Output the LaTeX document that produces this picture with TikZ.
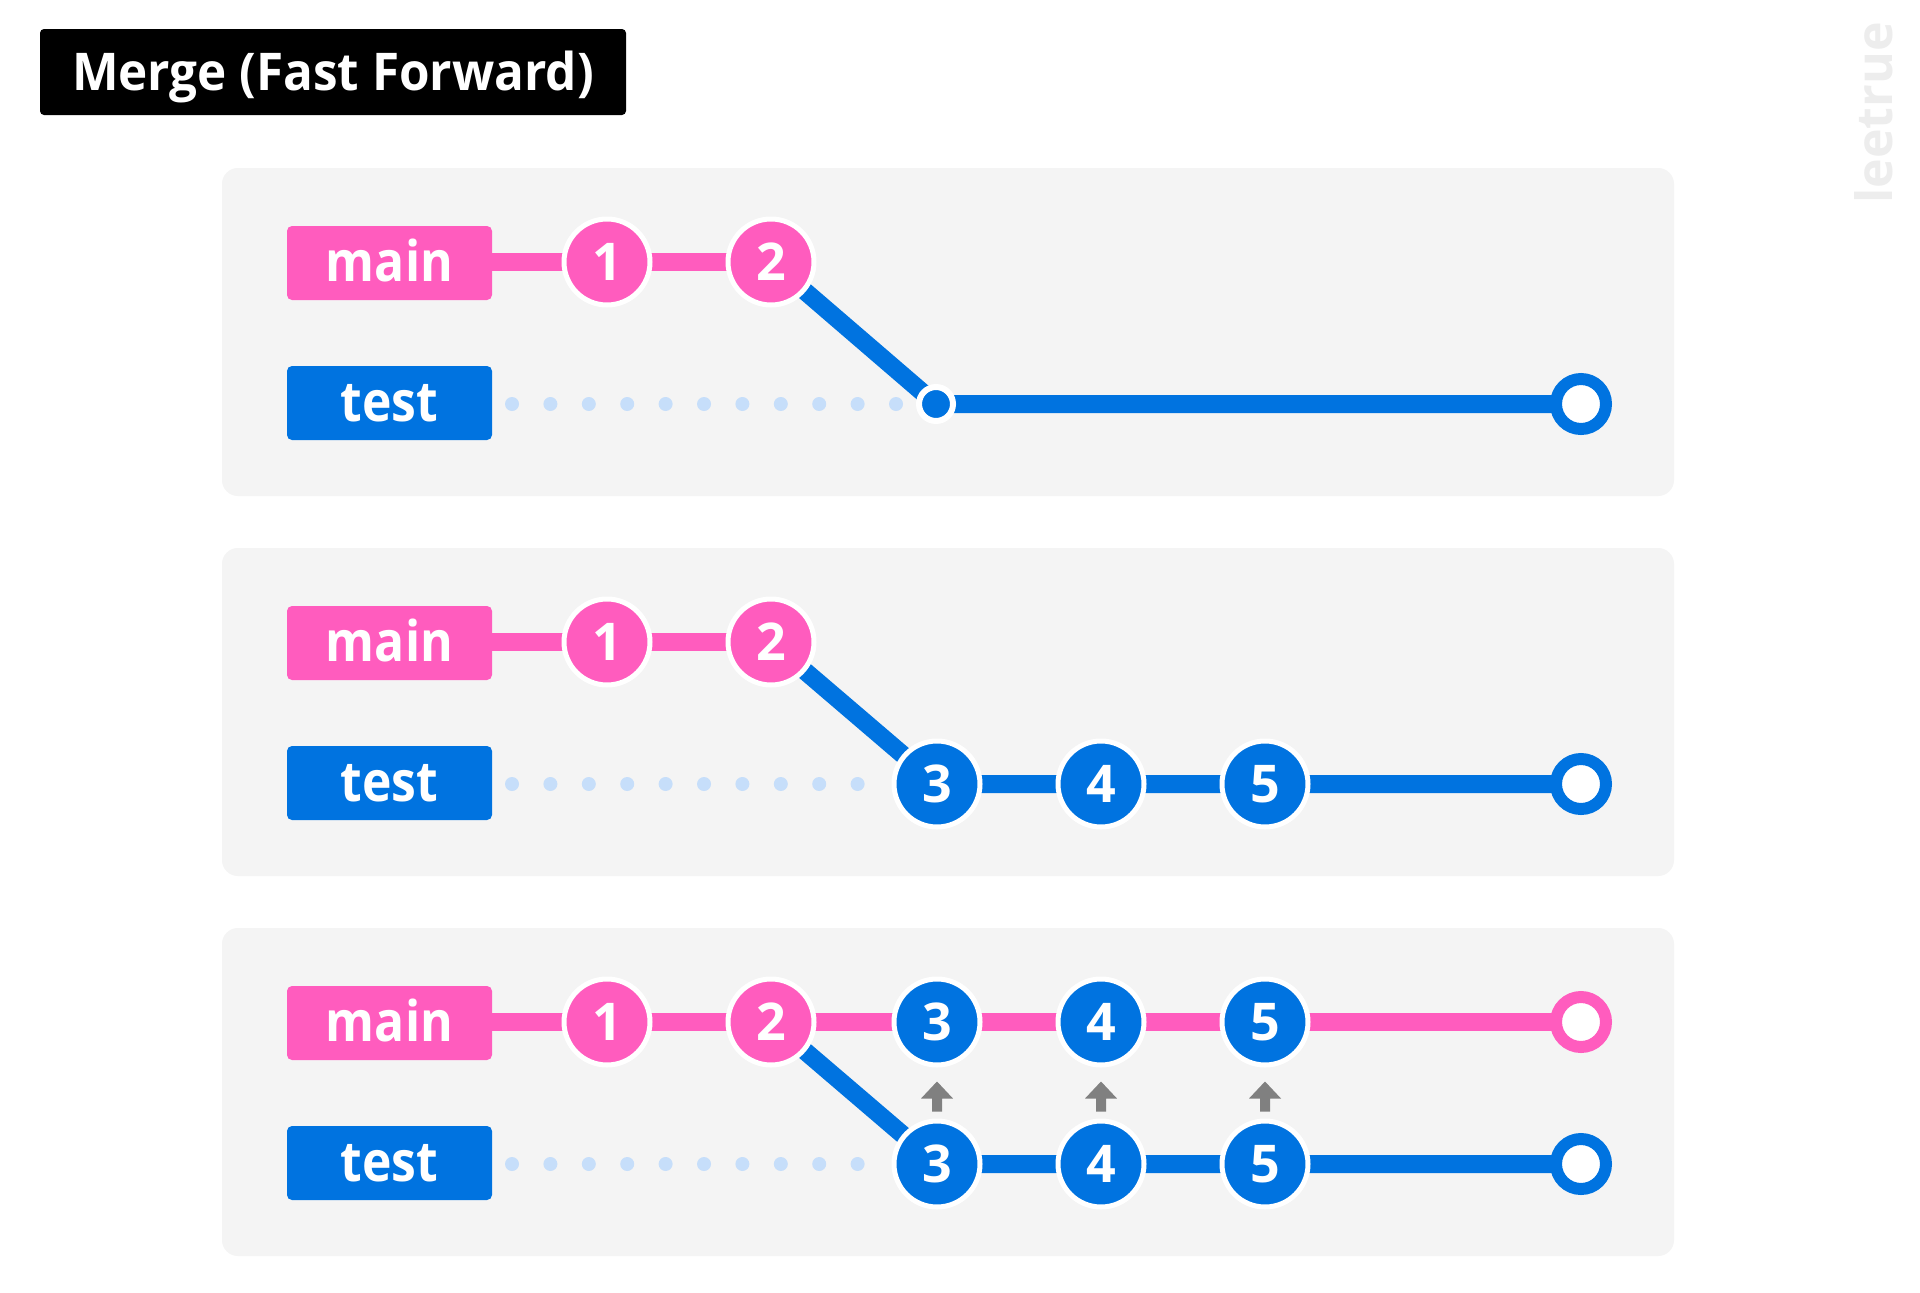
\documentclass[tikz,border=0pt]{standalone}
\usepackage{fontspec}
\setmainfont{Open Sans}
\newfontfamily\titlefont{Open Sans}[FakeStretch=0.95]
\newfontfamily\lblfont{Open Sans}[FakeStretch=0.89]
\usetikzlibrary{calc}
\definecolor{pk}{HTML}{FF5CBE}
\definecolor{bl}{HTML}{0073E0}
\definecolor{dotc}{HTML}{C6DEFA}
\definecolor{panelc}{HTML}{F4F4F4}
\definecolor{arrc}{HTML}{808080}
\definecolor{wmc}{HTML}{EDEDED}
\pgfdeclarelayer{panels}
\pgfdeclarelayer{lines}
\pgfsetlayers{panels,lines,main}
\newcommand\uparr[1]{\fill[arrc] ($(#1.south)+(0,14)$) -- ++(16,17) -- ++(-11,0) -- ++(0,13) -- ++(-10,0) -- ++(0,-13) -- ++(-11,0) -- cycle;}
\begin{document}
\begin{tikzpicture}[x=1pt,y=-1pt,
  titlebox/.style={rectangle, fill=black, rounded corners=4pt, minimum width=586pt, minimum height=86pt, inner sep=0pt, text height=37pt, text depth=0pt, text=white, font=\titlefont\bfseries\fontsize{52}{60}\selectfont},
  panelbox/.style={rectangle, fill=panelc, rounded corners=16pt, minimum width=1452pt, minimum height=328pt, inner sep=0pt},
  lbl/.style={rectangle, rounded corners=5pt, minimum width=205pt, minimum height=74pt, inner sep=0pt, text height=37pt, text depth=0pt, text=white, font=\lblfont\bfseries\fontsize{56}{60}\selectfont},
  mainlbl/.style={lbl, fill=pk},
  testlbl/.style={lbl, fill=bl},
  commit/.style={circle, minimum size=86pt, inner sep=0pt, line width=5pt, draw=white, text=white, font=\bfseries\fontsize{52}{60}\selectfont},
  pkc/.style={commit, fill=pk},
  blc/.style={commit, fill=bl},
  endring/.style={circle, minimum size=50pt, inner sep=0pt, line width=12pt, fill=white},
  forkdot/.style={circle, minimum size=34pt, inner sep=0pt, line width=6pt, draw=white, fill=bl},
  pkline/.style={draw=pk, line width=18pt},
  blline/.style={draw=bl, line width=18pt},
  wmark/.style={rotate=90, text=wmc, inner sep=0pt, font=\bfseries\fontsize{50}{50}\selectfont}
]
\useasboundingbox (0,0) rectangle (1920,1293);
\begin{pgfonlayer}{panels}
\fill[white] (0,0) rectangle (1920,1293);
\node[panelbox] (p1) at (948,332) {};
\node[panelbox] (p2) at (948,712) {};
\node[panelbox] (p3) at (948,1092) {};
\end{pgfonlayer}

\node[titlebox] (title) at (333,72) {Merge (Fast Forward)};
\node[wmark] (wm) at (1874,113) {leetrue};

% ---------- panel 1 ----------
\node[mainlbl] (m1) at (389.5,263) {main};
\node[testlbl] (t1) at (389.5,403) {test};
\node[pkc] (a11) at (607,262) {1};
\node[pkc] (a12) at (771,262) {2};
\node[forkdot] (d1) at (936,404) {};
\node[endring, draw=bl] (e1) at (1581,404) {};
\foreach \i in {0,...,10} \fill[dotc] (512+38.4*\i,404) circle (7);

% ---------- panel 2 ----------
\node[mainlbl] (m2) at (389.5,643) {main};
\node[testlbl] (t2) at (389.5,783) {test};
\node[pkc] (a21) at (607,642) {1};
\node[pkc] (a22) at (771,642) {2};
\node[blc] (b23) at (937,784) {3};
\node[blc] (b24) at (1101,784) {4};
\node[blc] (b25) at (1265,784) {5};
\node[endring, draw=bl] (e2) at (1581,784) {};
\foreach \i in {0,...,9} \fill[dotc] (512+38.4*\i,784) circle (7);

% ---------- panel 3 ----------
\node[mainlbl] (m3) at (389.5,1023) {main};
\node[testlbl] (t3) at (389.5,1163) {test};
\node[pkc] (a31) at (607,1022) {1};
\node[pkc] (a32) at (771,1022) {2};
\node[blc] (a33) at (937,1022) {3};
\node[blc] (a34) at (1101,1022) {4};
\node[blc] (a35) at (1265,1022) {5};
\node[endring, draw=pk] (f3) at (1581,1022) {};
\node[blc] (b33) at (937,1164) {3};
\node[blc] (b34) at (1101,1164) {4};
\node[blc] (b35) at (1265,1164) {5};
\node[endring, draw=bl] (e3) at (1581,1164) {};
\foreach \i in {0,...,9} \fill[dotc] (512+38.4*\i,1164) circle (7);

\uparr{a33}
\uparr{a34}
\uparr{a35}

\begin{pgfonlayer}{lines}
\draw[pkline] (m1.east |- a11.center) -- (a11.center) -- (a12.center);
\draw[blline] (a12.center) -- (d1.center) -- (e1.center);
\draw[pkline] (m2.east |- a21.center) -- (a21.center) -- (a22.center);
\draw[blline] (a22.center) -- (b23.center) -- (b24.center) -- (b25.center) -- (e2.center);
\draw[pkline] (m3.east |- a31.center) -- (a31.center) -- (a32.center) -- (a33.center) -- (a34.center) -- (a35.center) -- (f3.center);
\draw[blline] (a32.center) -- (b33.center) -- (b34.center) -- (b35.center) -- (e3.center);
\end{pgfonlayer}
\end{tikzpicture}
\end{document}
